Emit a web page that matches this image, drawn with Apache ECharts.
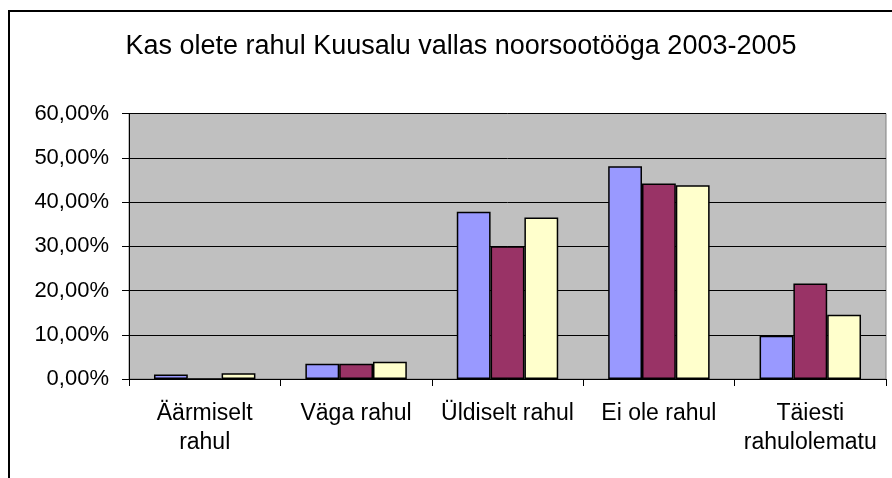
<!DOCTYPE html>
<html>
<head>
<meta charset="utf-8">
<script src="https://cdn.jsdelivr.net/npm/echarts@6/dist/echarts.min.js"></script>
<style>
html,body{margin:0;padding:0;background:#fff;}
#main{width:892px;height:478px;}
</style>
</head>
<body>
<div id="main"></div>
<script>
const titleText = 'Kas olete rahul Kuusalu vallas noorsootööga 2003-2005';
const categories = ['Äärmiselt\nrahul', 'Väga rahul', 'Üldiselt rahul', 'Ei ole rahul', 'Täiesti\nrahulolematu'];
const seriesNames = ['2003', '2004', '2005'];
const series2003 = [1.0, 3.45, 37.8, 48.1, 9.8];
const series2004 = [0, 3.45, 30.0, 44.2, 21.6];
const series2005 = [1.3, 3.9, 36.5, 43.8, 14.5];
const yTicks = [0, 10, 20, 30, 40, 50, 60];
const colors = ['#9999FF', '#993366', '#FFFFCC'];

const font = 'Liberation Sans, Arial, sans-serif';
const chart = echarts.init(document.getElementById('main'), null, {renderer: 'canvas'});
const dataSets = [series2003, series2004, series2005];

chart.setOption({
  animation: false,
  backgroundColor: '#ffffff',
  title: {
    text: titleText,
    left: 456,
    top: 28,
    textAlign: 'center',
    textStyle: {fontFamily: font, fontSize: 27, fontWeight: 'normal', color: '#000'}
  },
  graphic: [{
    type: 'rect',
    shape: {x: 9, y: 11, width: 900, height: 500},
    style: {fill: 'none', stroke: '#000', lineWidth: 2},
    silent: true
  }],
  grid: {
    left: 129, top: 113.5, right: 6, bottom: 99,
    show: true,
    backgroundColor: '#C0C0C0',
    borderColor: '#808080',
    borderWidth: 1
  },
  xAxis: {
    type: 'category',
    data: categories,
    axisLine: {lineStyle: {color: '#000', width: 1}},
    axisTick: {show: true, inside: false, length: 7, lineStyle: {color: '#000'}},
    axisLabel: {interval: 0, margin: 20, fontFamily: font, fontSize: 23, color: '#000', lineHeight: 29}
  },
  yAxis: {
    type: 'value',
    min: yTicks[0],
    max: yTicks[yTicks.length - 1],
    interval: yTicks[1] - yTicks[0],
    axisLine: {show: true, lineStyle: {color: '#000', width: 1}},
    axisTick: {show: true, length: 7, lineStyle: {color: '#000'}},
    splitLine: {show: true, lineStyle: {color: '#000', width: 1}},
    axisLabel: {
      margin: 20, fontFamily: font, fontSize: 22, color: '#000',
      formatter: v => v.toFixed(2).replace('.', ',') + '%'
    }
  },
  series: seriesNames.map((name, i) => ({
    name: name,
    type: 'bar',
    data: dataSets[i],
    barGap: '0%',
    barCategoryGap: '33%',
    itemStyle: {color: colors[i], borderColor: '#000', borderWidth: 1.5}
  }))
});
</script>
</body>
</html>
